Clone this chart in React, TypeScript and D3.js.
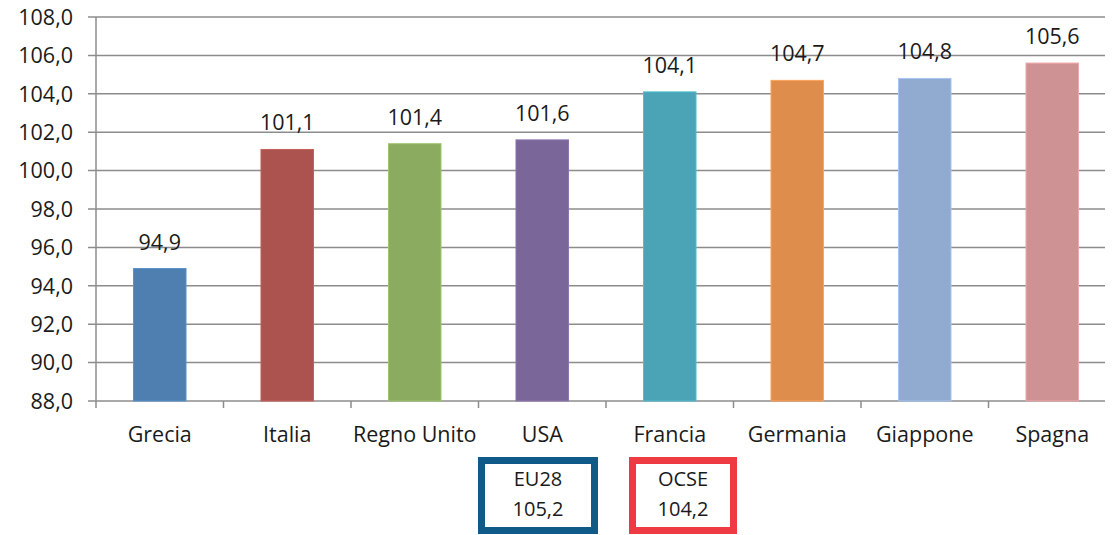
import React from "react";
import * as d3 from "d3";

const categories = ["Grecia", "Italia", "Regno Unito", "USA", "Francia", "Germania", "Giappone", "Spagna"];
const values = [94.9, 101.1, 101.4, 101.6, 104.1, 104.7, 104.8, 105.6];
const colors = ["#4E7FB0", "#AC5350", "#8AAB60", "#7A6699", "#4AA4B5", "#DE8D4D", "#91AAD0", "#CF9294"];
const yTicks = [88, 90, 92, 94, 96, 98, 100, 102, 104, 106, 108];
const boxLabels = ["EU28", "OCSE"];
const boxValues = [105.2, 104.2];
const boxColors = ["#0F5A88", "#EE3A43"];

const W = 1114;
const H = 535;
const left = 96;
const right = 1116;
const gridRight = 1105;
const top = 17;
const bottom = 401;
const font = "'Open Sans', 'Liberation Sans', sans-serif";
const fs = 21.5;

const fmt = (v: number) => v.toFixed(1).replace(".", ",");

export default function App() {
  const x = d3.scaleBand<string>().domain(categories).range([left, right]).paddingInner(0.588).paddingOuter(0.294);
  const xc = d3.scaleBand<string>().domain(categories).range([left, right]);
  const y = d3.scaleLinear().domain([88, 108]).range([bottom, top]);
  const boxes = [
    { x: 478, w: 120 },
    { x: 629, w: 108 },
  ];
  return (
    <svg width={W} height={H} style={{ position: "absolute", left: 0, top: 0, background: "#fff" }}>
      {yTicks.map((t) => (
        <g key={t}>
          <line x1={left - 8} x2={gridRight} y1={y(t)} y2={y(t)} stroke="#8C8C8C" strokeWidth={1.5} />
          <text x={73} y={y(t)} dy="0.36em" textAnchor="end" fontFamily={font} fontSize={fs} fill="#1a1a1a">
            {fmt(t)}
          </text>
        </g>
      ))}
      <line x1={left} x2={left} y1={top} y2={bottom} stroke="#8C8C8C" strokeWidth={1.5} />
      {categories.slice(0, -1).map((c, i) => (
        <line key={"t" + i} x1={xc(c)! + xc.bandwidth()} x2={xc(c)! + xc.bandwidth()} y1={bottom} y2={bottom + 7} stroke="#8C8C8C" strokeWidth={1.5} />
      ))}
      <line x1={left} x2={left} y1={bottom} y2={bottom + 7} stroke="#8C8C8C" strokeWidth={1.5} />
      {categories.map((c, i) => (
        <g key={c}>
          <rect
            x={x(c)}
            y={y(values[i])}
            width={x.bandwidth()}
            height={y(88) - y(values[i])}
            fill={colors[i]}
            stroke={d3.color(colors[i])!.brighter(0.4).toString()}
            strokeWidth={1}
          />
          <text x={x(c)! + x.bandwidth() / 2} y={y(values[i]) - 19} textAnchor="middle" fontFamily={font} fontSize={fs} fill="#1a1a1a">
            {fmt(values[i])}
          </text>
          <text x={xc(c)! + xc.bandwidth() / 2} y={442} textAnchor="middle" fontFamily={font} fontSize={fs} fill="#1a1a1a">
            {c}
          </text>
        </g>
      ))}
      {boxLabels.map((b, i) => (
        <g key={b}>
          <rect x={boxes[i].x + 3.5} y={460.5} width={boxes[i].w - 7} height={70} fill="#fff" stroke={boxColors[i]} strokeWidth={7} />
          <text x={boxes[i].x + boxes[i].w / 2} y={486} textAnchor="middle" fontFamily={font} fontSize={20} fill="#1a1a1a">
            {b}
          </text>
          <text x={boxes[i].x + boxes[i].w / 2} y={516} textAnchor="middle" fontFamily={font} fontSize={20} fill="#1a1a1a">
            {fmt(boxValues[i])}
          </text>
        </g>
      ))}
    </svg>
  );
}
